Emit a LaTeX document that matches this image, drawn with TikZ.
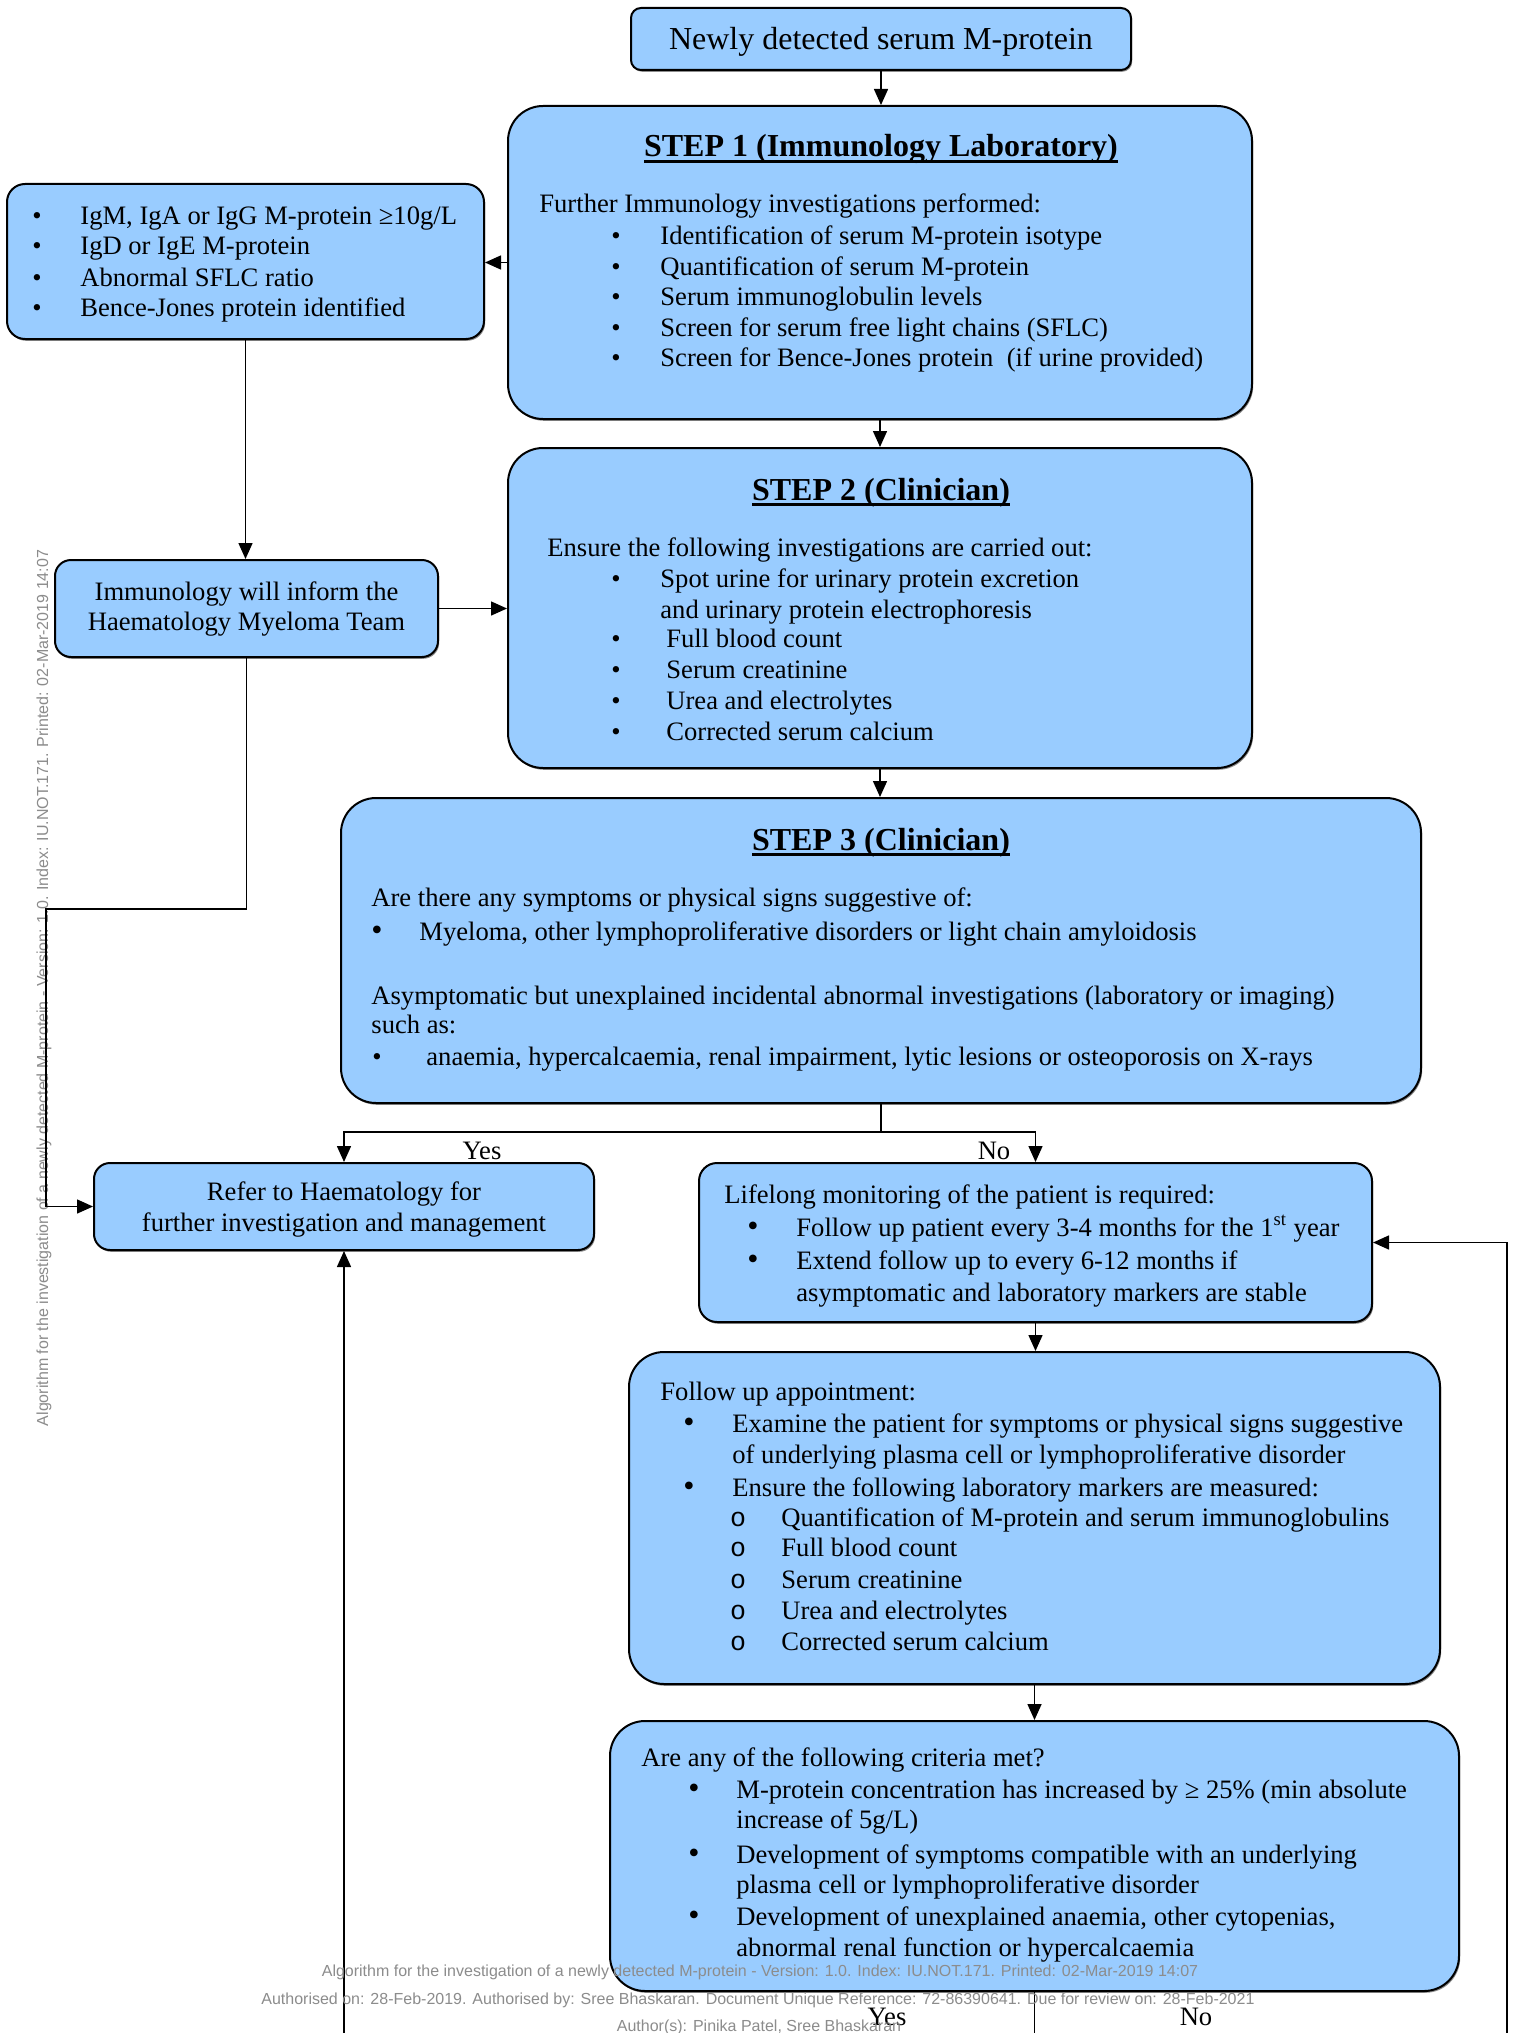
\documentclass[tikz,border=0pt]{standalone}
\usepackage{fontspec}
\setmainfont{Liberation Serif}
\newfontfamily\arialf{Liberation Sans}
\newfontfamily\courf{Liberation Mono}
\usetikzlibrary{arrows.meta,shadows}
\definecolor{boxblue}{HTML}{99CCFF}
\definecolor{footgray}{HTML}{8C8C8C}
\newcommand\boxtxt{\fontsize{13.3pt}{15.25pt}\selectfont}
\newcommand\bigtxt{\fontsize{16pt}{18pt}\selectfont}
\newcommand\bultxt{\fontsize{16pt}{18pt}\selectfont}
\newcommand\foottxt{\arialf\fontsize{8pt}{9pt}\selectfont}
\newsavebox\ulbox
\newcommand\myul[1]{\sbox\ulbox{#1}\rlap{\rule[-3.1pt]{\wd\ulbox}{1.5pt}}\usebox\ulbox}
% text line: name, x, baseline y, text
\newcommand\TL[4]{\node[txt,anchor=base west] (#1) at (#2,#3) {#4};}
\newcommand\TC[4]{\node[txt,anchor=base] (#1) at (#2,#3) {#4};}
\newcommand\BU[3]{\node[txt,anchor=base] (#1) at (#2,#3) {•};}
\newcommand\BB[3]{\node[txt,anchor=base,font=\bultxt] (#1) at (#2,#3) {•};}
\newcommand\BO[3]{\node[txt,anchor=base,font=\courf\boxtxt] (#1) at (#2,#3) {o};}
\begin{document}
\begin{tikzpicture}[x=0.5pt,y=-0.5pt,
  box/.style={draw=black, line width=1pt, fill=boxblue, inner sep=0pt,
    drop shadow={shadow xshift=0.6pt, shadow yshift=-0.9pt, fill=black!45, opacity=1}},
  arr/.style={line width=0.75pt, -{Triangle[length=8pt,width=7pt]}},
  ln/.style={line width=0.75pt},
  txt/.style={inner sep=0pt, font=\boxtxt},
  foot/.style={inner sep=0pt, font=\foottxt, text=footgray}]
\useasboundingbox (0,0) rectangle (1518,2033);
\fill[white] (0,0) rectangle (1518,2033);

% side watermark
\node[foot, rotate=90, anchor=center] (side) at (44,988) {Algorithm for the investigation of a newly detected M-protein - Version: 1.0. Index: IU.NOT.171. Printed: 02-Mar-2019 14:07};

% boxes
\node[box, rounded corners=5pt, minimum width=250pt, minimum height=31pt] (top) at (881,39) {};
\node[box, rounded corners=17.5pt, minimum width=372pt, minimum height=156.5pt] (s1) at (880,262.5) {};
\node[box, rounded corners=9pt, minimum width=238.5pt, minimum height=77.5pt] (left) at (245.5,261.5) {};
\node[box, rounded corners=17.5pt, minimum width=372pt, minimum height=160pt] (s2) at (880,608) {};
\node[box, rounded corners=8pt, minimum width=191.5pt, minimum height=48.5pt] (inform) at (246.5,608.5) {};
\node[box, rounded corners=17.5pt, minimum width=540pt, minimum height=152.5pt] (s3) at (881,950.5) {};
\node[box, rounded corners=8pt, minimum width=250pt, minimum height=43.5pt] (refer) at (344,1206.5) {};
\node[box, rounded corners=9pt, minimum width=336.5pt, minimum height=79.5pt] (life) at (1035.5,1242.5) {};
\node[box, rounded corners=17.5pt, minimum width=405.5pt, minimum height=166pt] (follow) at (1034.5,1518) {};
\node[box, rounded corners=17.5pt, minimum width=424.5pt, minimum height=135pt] (crit) at (1034.5,1856) {};

% coordinates
\coordinate (jl) at (46,909);
\coordinate (split) at (881,1132);
\coordinate (cb) at (1034.5,2033);
\coordinate (rb) at (1507,2033);
\coordinate (lb) at (344,2033);

% connectors
\draw[arr] (top.south) -- (top.south |- s1.north);
\draw[arr] (s1.west) -- (s1.west -| left.east);
\draw[arr] (left.south) -- (left.south |- inform.north);
\draw[arr] (inform.east) -- (inform.east -| s2.west);
\draw[arr] (s1.south) -- (s1.south |- s2.north);
\draw[arr] (s2.south) -- (s2.south |- s3.north);
\draw[arr] (inform.south) -- (inform.south |- jl) -- (jl) -- (jl |- refer.west) -- (refer.west);
\draw[ln] (s3.south) -- (s3.south |- split);
\draw[arr] (s3.south |- split) -| (refer.north);
\draw[arr] (s3.south |- split) -| (life.north);
\draw[arr] (life.south) -- (life.south |- follow.north);
\draw[arr] (follow.south) -- (follow.south |- crit.north);
\draw[ln] (crit.south) -- (crit.south |- cb);
\draw[arr] (rb) |- (life.east);
\draw[arr] (lb) -- (lb |- refer.south);

% texts
\node[txt, font=\bigtxt, anchor=base] (toptxt) at (881,50) {Newly detected serum M-protein};

\node[txt, font=\bigtxt\bfseries, anchor=base] (s1t) at (881,157) {\myul{STEP 1 (Immunology Laboratory)}};
\TL{s1a}{539}{213}{Further Immunology investigations performed:}
\BU{s1b1}{616}{244}\TL{s1b}{660}{244}{Identification of serum M-protein isotype}
\BU{s1c1}{616}{275}\TL{s1c}{660}{275}{Quantification of serum M-protein}
\BU{s1d1}{616}{305}\TL{s1d}{660}{305}{Serum immunoglobulin levels}
\BU{s1e1}{616}{336}\TL{s1e}{660}{336}{Screen for serum free light chains (SFLC)}
\BU{s1f1}{616}{366}\TL{s1f}{660}{366}{Screen for Bence-Jones protein\ \ (if urine provided)}

\BU{la1}{37}{225}\TL{la}{80}{225}{IgM, IgA or IgG M-protein ≥10g/L}
\BU{lb1}{37}{255}\TL{lbt}{80}{255}{IgD or IgE M-protein}
\BU{lc1}{37}{286}\TL{lc}{80}{286}{Abnormal SFLC ratio}
\BU{ld1}{37}{316}\TL{ld}{80}{316}{Bence-Jones protein identified}

\node[txt, font=\bigtxt\bfseries, anchor=base] (s2t) at (881,500) {\myul{STEP 2 (Clinician)}};
\TL{s2a}{547}{556}{Ensure the following investigations are carried out:}
\BU{s2b1}{616}{587}\TL{s2b}{660}{587}{Spot urine for urinary protein excretion}
\TL{s2c}{660}{618}{and urinary protein electrophoresis}
\BU{s2d1}{616}{647}\TL{s2d}{666}{647}{Full blood count}
\BU{s2e1}{616}{678}\TL{s2e}{666}{678}{Serum creatinine}
\BU{s2f1}{616}{709}\TL{s2f}{666}{709}{Urea and electrolytes}
\BU{s2g1}{616}{740}\TL{s2g}{666}{740}{Corrected serum calcium}

\TC{inf1}{246.5}{600}{Immunology will inform the}
\TC{inf2}{246.5}{630}{Haematology Myeloma Team}

\node[txt, font=\bigtxt\bfseries, anchor=base] (s3t) at (881,850) {\myul{STEP 3 (Clinician)}};
\TL{s3a}{371}{906}{Are there any symptoms or physical signs suggestive of:}
\BB{s3b1}{377}{940}\TL{s3b}{419}{940}{Myeloma, other lymphoproliferative disorders or light chain amyloidosis}
\TL{s3c}{371}{1004}{Asymptomatic but unexplained incidental abnormal investigations (laboratory or imaging)}
\TL{s3d}{371}{1033}{such as:}
\BU{s3e1}{377}{1065}\TL{s3e}{426}{1065}{anaemia, hypercalcaemia, renal impairment, lytic lesions or osteoporosis on X-rays}

\node[txt, anchor=base] (yes1) at (482,1159) {Yes};
\node[txt, anchor=base] (no1) at (994,1159) {No};

\TC{ref1}{344}{1200}{Refer to Haematology for}
\TC{ref2}{344}{1231}{further investigation and management}

\TL{lf1}{724}{1203}{Lifelong monitoring of the patient is required:}
\BB{lf2b}{753}{1236}\TL{lf2}{796}{1236}{Follow up patient every 3-4 months for the 1\textsuperscript{st} year}
\BB{lf3b}{753}{1269}\TL{lf3}{796}{1269}{Extend follow up to every 6-12 months if}
\TL{lf4}{796}{1301}{asymptomatic and laboratory markers are stable}

\TL{fu1}{660}{1400}{Follow up appointment:}
\BB{fu2b}{689}{1432}\TL{fu2}{732}{1432}{Examine the patient for symptoms or physical signs suggestive}
\TL{fu3}{732}{1463}{of underlying plasma cell or lymphoproliferative disorder}
\BB{fu4b}{689}{1496}\TL{fu4}{732}{1496}{Ensure the following laboratory markers are measured:}
\BO{fu5b}{738}{1526}\TL{fu5}{781}{1526}{Quantification of M-protein and serum immunoglobulins}
\BO{fu6b}{738}{1556}\TL{fu6}{781}{1556}{Full blood count}
\BO{fu7b}{738}{1588}\TL{fu7}{781}{1588}{Serum creatinine}
\BO{fu8b}{738}{1619}\TL{fu8}{781}{1619}{Urea and electrolytes}
\BO{fu9b}{738}{1650}\TL{fu9}{781}{1650}{Corrected serum calcium}

\TL{cr1}{641}{1766}{Are any of the following criteria met?}
\BB{cr2b}{694}{1798}\TL{cr2}{736}{1798}{M-protein concentration has increased by ≥ 25\% (min absolute}
\TL{cr3}{736}{1828}{increase of 5g/L)}
\BB{cr4b}{694}{1863}\TL{cr4}{736}{1863}{Development of symptoms compatible with an underlying}
\TL{cr5}{736}{1893}{plasma cell or lymphoproliferative disorder}
\BB{cr6b}{694}{1925}\TL{cr6}{736}{1925}{Development of unexplained anaemia, other cytopenias,}
\TL{cr7}{736}{1956}{abnormal renal function or hypercalcaemia}

\node[txt, anchor=base] (yes2) at (887,2025) {Yes};
\node[txt, anchor=base] (no2) at (1196,2025) {No};

% footer
\node[foot, anchor=base] (f1) at (760,1976) {Algorithm for the investigation of a newly detected M-protein - Version: 1.0. Index: IU.NOT.171. Printed: 02-Mar-2019 14:07};
\node[foot, anchor=base] (f2) at (758,2004) {Authorised on: 28-Feb-2019. Authorised by: Sree Bhaskaran. Document Unique Reference: 72-86390641. Due for review on: 28-Feb-2021};
\node[foot, anchor=base] (f3) at (759,2031) {Author(s): Pinika Patel, Sree Bhaskaran};
\end{tikzpicture}
\end{document}
